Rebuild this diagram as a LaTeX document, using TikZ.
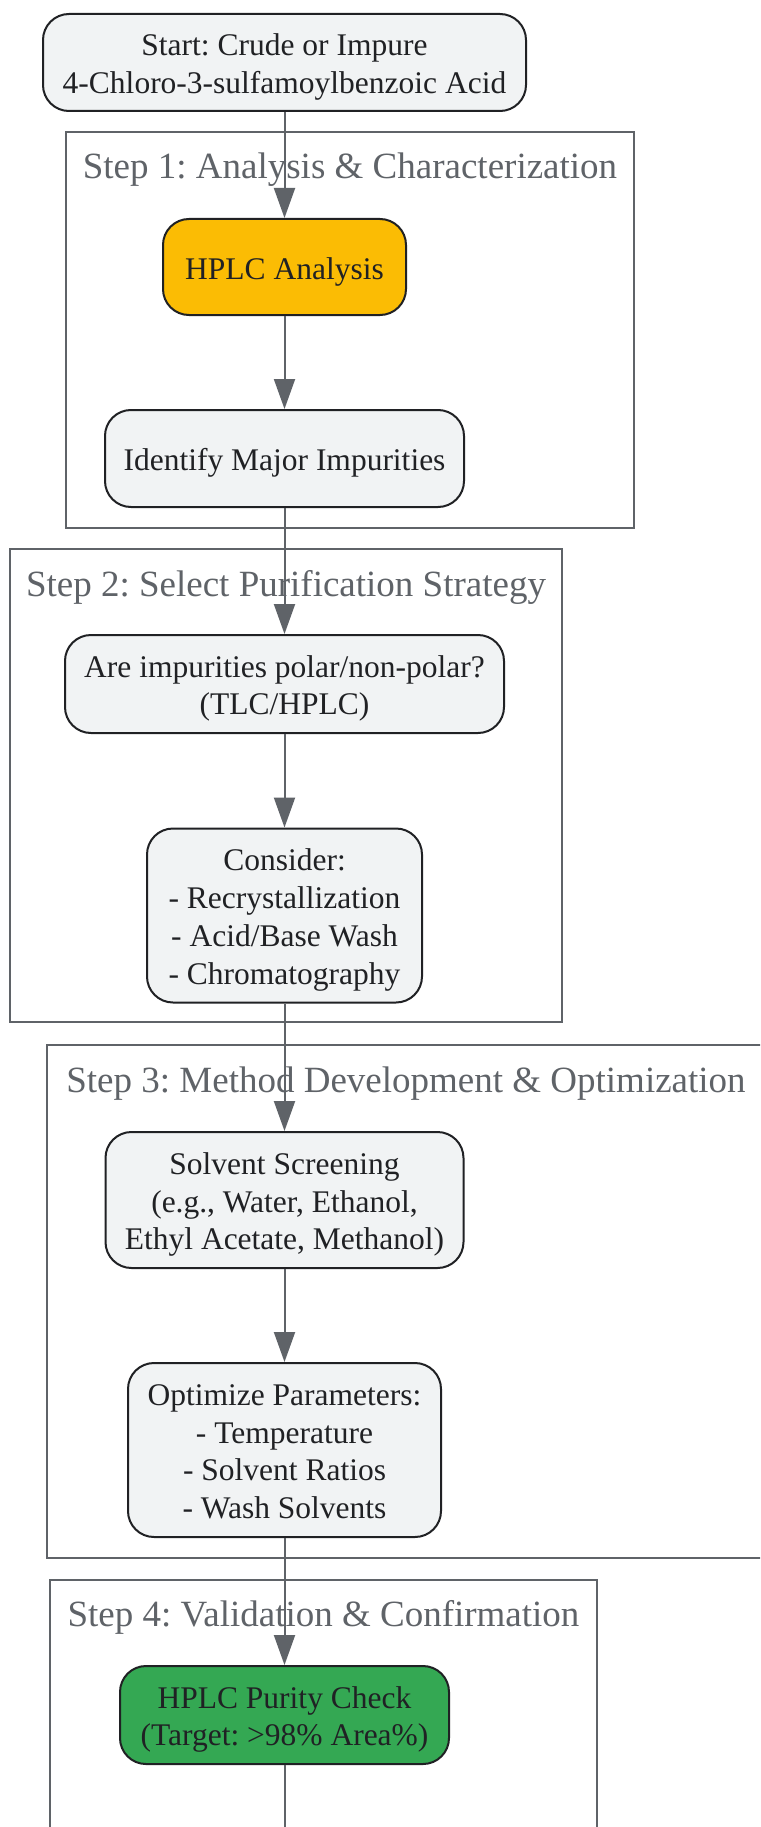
\documentclass[tikz,border=0pt]{standalone}
\usepackage{fontspec}
\setmainfont{Liberation Serif}
\frenchspacing
\usetikzlibrary{arrows.meta}
\definecolor{nodefill}{HTML}{F1F3F4}
\definecolor{nodeborder}{HTML}{202124}
\definecolor{edgecol}{HTML}{5F6368}
\definecolor{clustercol}{HTML}{5F6368}
\definecolor{yellowfill}{HTML}{FBBC04}
\definecolor{greenfill}{HTML}{34A853}
\begin{document}
\begin{tikzpicture}[x=1pt,y=-1pt,
  proc/.style={draw=nodeborder, line width=2pt, fill=nodefill, rounded corners=26pt,
    align=center, inner sep=0pt, text=nodeborder, font=\fontsize{31.5}{37.8}\selectfont},
  lines/.style={text height={(#1-1)*37.8pt+24pt}, text depth=0pt},
  cluster/.style={draw=clustercol, line width=2pt},
  ctitle/.style={anchor=base, text=clustercol, font=\fontsize{37}{44}\selectfont, inner sep=0pt},
  arrow/.style={draw=edgecol, line width=2pt, -{Triangle[length=30pt,width=21pt]}}]
\clip (0,0) rectangle (760,1827);
\fill[white] (0,0) rectangle (760,1827);
% clusters
\draw[cluster] (66,132) rectangle (634,528);
\node[ctitle] (t1) at (350,179) {Step 1: Analysis \& Characterization};
\draw[cluster] (10,549) rectangle (562,1022);
\node[ctitle] (t2) at (286,596) {Step 2: Select Purification Strategy};
\draw[cluster] (47,1045) rectangle (765,1558);
\node[ctitle] (t3) at (406,1092) {Step 3: Method Development \& Optimization};
\draw[cluster] (50,1580) rectangle (597,1900);
\node[ctitle] (t4) at (323.5,1626) {Step 4: Validation \& Confirmation};
% nodes
\node[proc, lines=2, minimum width=483pt, minimum height=97pt] (start) at (284.5,62.5)
  {Start: Crude or Impure\\4-Chloro-3-sulfamoylbenzoic Acid};
\node[proc, lines=1, fill=yellowfill, minimum width=243pt, minimum height=96pt] (hplc) at (284.5,267)
  {HPLC Analysis};
\node[proc, lines=1, minimum width=359pt, minimum height=97pt] (ident) at (284.5,458.5)
  {Identify Major Impurities};
\node[proc, lines=2, minimum width=439pt, minimum height=98pt] (polar) at (284.5,684)
  {Are impurities polar/non-polar?\\(TLC/HPLC)};
\node[proc, lines=4, minimum width=275pt, minimum height=174pt] (consider) at (284.5,915.5)
  {Consider:\\- Recrystallization\\- Acid/Base Wash\\- Chromatography};
\node[proc, lines=3, minimum width=358pt, minimum height=136pt] (solvent) at (284.5,1200)
  {Solvent Screening\\(e.g., Water, Ethanol,\\Ethyl Acetate, Methanol)};
\node[proc, lines=4, minimum width=313pt, minimum height=174pt] (optim) at (284.5,1450)
  {Optimize Parameters:\\- Temperature\\- Solvent Ratios\\- Wash Solvents};
\node[proc, lines=2, fill=greenfill, minimum width=329pt, minimum height=98pt] (purity) at (284.5,1715)
  {HPLC Purity Check\\(Target: >98\% Area\%)};
\coordinate (next) at (284.5,1857);
% connectors
\draw[arrow] (start) -- (hplc);
\draw[arrow] (hplc) -- (ident);
\draw[arrow] (ident) -- (polar);
\draw[arrow] (polar) -- (consider);
\draw[arrow] (consider) -- (solvent);
\draw[arrow] (solvent) -- (optim);
\draw[arrow] (optim) -- (purity);
\draw[arrow] (purity) -- (next);
\end{tikzpicture}
\end{document}
